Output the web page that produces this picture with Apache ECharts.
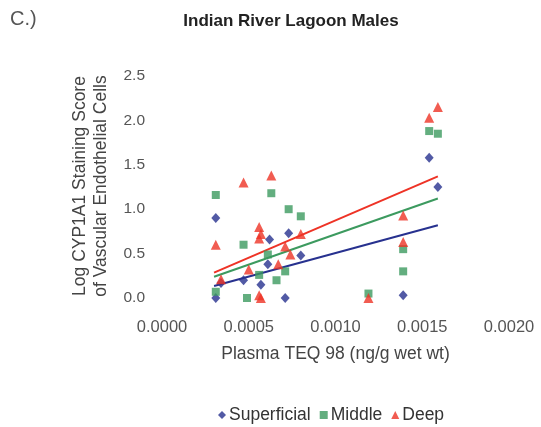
<!DOCTYPE html>
<html><head><meta charset="utf-8">
<script src="https://cdn.jsdelivr.net/npm/echarts@6/dist/echarts.min.js"></script>
<style>html,body{margin:0;padding:0;background:#fff}#c{width:541px;height:427px}</style>
</head><body><div id="c"></div>
<script>
// Data: [Plasma TEQ 98, Log CYP1A1 score]
const superficial = [
  [0.00031, 0.90], [0.00031, 0.00], [0.00034, 0.17], [0.00047, 0.20], [0.00057, 0.15],
  [0.00061, 0.38], [0.00062, 0.66], [0.00071, 0.00], [0.00073, 0.73], [0.00080, 0.48],
  [0.00139, 0.03], [0.00154, 1.58], [0.00159, 1.25]
];
const middle = [
  [0.00031, 1.16], [0.00031, 0.07], [0.00047, 0.60], [0.00049, 0.00], [0.00056, 0.26],
  [0.00061, 0.49], [0.00063, 1.18], [0.00066, 0.20], [0.00071, 0.30], [0.00073, 1.00],
  [0.00080, 0.92], [0.00119, 0.05], [0.00139, 0.55], [0.00139, 0.30], [0.00154, 1.88],
  [0.00159, 1.85]
];
const deep = [
  [0.00031, 0.60], [0.00034, 0.21], [0.00047, 1.30], [0.00050, 0.32], [0.00056, 0.80],
  [0.00057, 0.72], [0.00056, 0.67], [0.00056, 0.03], [0.00057, 0.00], [0.00063, 1.38],
  [0.00067, 0.38], [0.00071, 0.58], [0.00074, 0.49], [0.00080, 0.72], [0.00119, 0.00],
  [0.00139, 0.93], [0.00139, 0.63], [0.00154, 2.03], [0.00159, 2.15]
];
// Trend line endpoints
const trendX = [0.0003, 0.00159];
const trendSuperficial = [0.135, 0.82];
const trendMiddle = [0.24, 1.12];
const trendDeep = [0.285, 1.37];
// Tick labels
const xTickLabels = ['0.0000', '0.0005', '0.0010', '0.0015', '0.0020'];
const yTickLabels = ['0.0', '0.5', '1.0', '1.5', '2.0', '2.5'];
const seriesNames = ['Superficial', 'Middle', 'Deep'];

const colors = ['#27318f', '#3c9a5f', '#ee3326'];
const FONT = '"Liberation Sans", Arial, sans-serif';
const xStep = 0.0005, yStep = 0.5;

const chart = echarts.init(document.getElementById('c'), null, {renderer: 'canvas'});
const pair = (xs, ys) => xs.map((x, i) => [x, ys[i]]);

chart.setOption({
  animation: false,
  backgroundColor: '#fff',
  textStyle: {fontFamily: FONT},
  grid: {left: 162, right: 32, top: 76, bottom: 129, containLabel: false},
  xAxis: {
    type: 'value', min: 0, max: xStep * (xTickLabels.length - 1), interval: xStep,
    axisLine: {show: false}, axisTick: {show: false}, splitLine: {show: false},
    axisLabel: {
      margin: 21, color: '#555', fontSize: 16.5, fontFamily: FONT,
      formatter: v => xTickLabels[Math.round(v / xStep)]
    },
    name: 'Plasma TEQ 98 (ng/g wet wt)', nameLocation: 'middle', nameGap: 47,
    nameTextStyle: {color: '#444', fontSize: 17.5, fontFamily: FONT}
  },
  yAxis: {
    type: 'value', min: 0, max: yStep * (yTickLabels.length - 1), interval: yStep,
    axisLine: {show: false}, axisTick: {show: false}, splitLine: {show: false},
    axisLabel: {
      margin: 17, color: '#555', fontSize: 15.5, fontFamily: FONT,
      formatter: v => yTickLabels[Math.round(v / yStep)]
    }
  },
  legend: {
    data: seriesNames, top: 401, left: 213,
    itemWidth: 8, itemHeight: 8, itemGap: 9,
    textStyle: {color: '#333', fontSize: 17.5, fontFamily: FONT, padding: [0, 0, 0, -2]}
  },
  graphic: [
    {type: 'text', left: 10, top: 9, style: {text: 'C.)', fontSize: 20, fill: '#555', fontFamily: FONT}},
    {type: 'text', x: 291, y: 21, style: {text: 'Indian River Lagoon Males', fontSize: 17, fontWeight: 'bold', fill: '#222', fontFamily: FONT, align: 'center', verticalAlign: 'middle'}},
    {type: 'text', x: 80, y: 186, rotation: Math.PI / 2, style: {text: 'Log CYP1A1 Staining Score', fontSize: 17.5, fill: '#444', fontFamily: FONT, align: 'center', verticalAlign: 'middle'}},
    {type: 'text', x: 101, y: 186, rotation: Math.PI / 2, style: {text: 'of Vascular Endothelial Cells', fontSize: 17.5, fill: '#444', fontFamily: FONT, align: 'center', verticalAlign: 'middle'}}
  ],
  series: [
    {name: 'trendS', type: 'line', data: pair(trendX, trendSuperficial), showSymbol: false, symbol: 'none', lineStyle: {color: colors[0], width: 2}, z: 1, silent: true},
    {name: 'trendM', type: 'line', data: pair(trendX, trendMiddle), showSymbol: false, symbol: 'none', lineStyle: {color: colors[1], width: 2}, z: 1, silent: true},
    {name: 'trendD', type: 'line', data: pair(trendX, trendDeep), showSymbol: false, symbol: 'none', lineStyle: {color: colors[2], width: 2}, z: 1, silent: true},
    {name: seriesNames[0], type: 'scatter', data: superficial, symbol: 'diamond', symbolSize: [9, 10], itemStyle: {color: colors[0]}, z: 3},
    {name: seriesNames[1], type: 'scatter', data: middle, symbol: 'rect', symbolSize: 8, itemStyle: {color: colors[1]}, z: 3},
    {name: seriesNames[2], type: 'scatter', data: deep, symbol: 'triangle', symbolSize: 10, itemStyle: {color: colors[2]}, z: 3}
  ]
});
</script>
</body></html>
